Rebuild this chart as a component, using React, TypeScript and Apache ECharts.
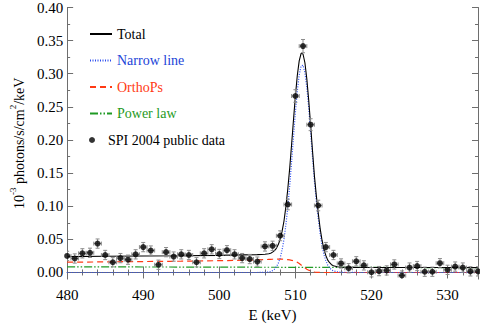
import React, { useEffect, useRef } from "react";
import * as echarts from "echarts";

// SPI 2004 public data points (keV, 10^-3 photons/s/cm^2/keV)
const energy = [
  480, 481, 482, 483, 484, 485, 486, 487, 488, 489, 490, 491, 492, 493, 494, 495, 496, 497, 498, 499,
  500, 501, 502, 503, 504, 505, 506, 507, 508, 509, 510, 511, 512, 513, 514, 515, 516, 517, 518, 519,
  520, 521, 522, 523, 524, 525, 526, 527, 528, 529, 530, 531, 532, 533, 534,
];
const spiFlux = [
  0.025, 0.0211, 0.0289, 0.0297, 0.0436, 0.0264, 0.0154, 0.0217, 0.0193, 0.0274, 0.0383, 0.0331, 0.0117,
  0.0307, 0.024, 0.0274, 0.0264, 0.0154, 0.0289, 0.035, 0.0279, 0.0336, 0.0274, 0.0217, 0.0203, 0.0164,
  0.0393, 0.0403, 0.0554, 0.1026, 0.2664, 0.3417, 0.2231, 0.1011, 0.0383, 0.0264, 0.0136, 0.0064, 0.0169,
  0.0107, 0.0003, 0.0021, 0.0031, 0.0121, -0.0046, 0.0074, 0.0097, 0.0011, 0.0011, 0.014, 0.004, 0.0089,
  0.0074, 0.0017, 0.0017,
];
const spiErr = [
  0.007, 0.007, 0.007, 0.007, 0.007, 0.007, 0.007, 0.007, 0.007, 0.007, 0.007, 0.007, 0.007, 0.007, 0.007,
  0.007, 0.007, 0.007, 0.007, 0.007, 0.007, 0.007, 0.007, 0.007, 0.007, 0.007, 0.007, 0.007, 0.0075, 0.008,
  0.0095, 0.01, 0.009, 0.008, 0.007, 0.007, 0.007, 0.007, 0.007, 0.007, 0.007, 0.007, 0.007, 0.007, 0.007,
  0.007, 0.007, 0.007, 0.007, 0.007, 0.007, 0.007, 0.007, 0.007, 0.007,
];

// Model curves, sampled on a common energy grid
const modelE = [
  480, 485, 490, 495, 500, 503, 505, 506, 506.5, 506.75, 507, 507.25, 507.5, 507.75, 508, 508.25, 508.5,
  508.75, 509, 509.25, 509.5, 509.75, 510, 510.25, 510.5, 510.75, 511, 511.25, 511.5, 511.75, 512, 512.25,
  512.5, 512.75, 513, 513.25, 513.5, 513.75, 514, 514.25, 514.5, 514.75, 515, 515.5, 516, 518, 520, 525,
  530, 534,
];
const totalFlux = [
  0.024, 0.0244, 0.0248, 0.0252, 0.0258, 0.0265, 0.0269, 0.0275, 0.0282, 0.0289, 0.0307, 0.033, 0.0365,
  0.0421, 0.0501, 0.0619, 0.0777, 0.0994, 0.1261, 0.1572, 0.1931, 0.2306, 0.2666, 0.2973, 0.3195, 0.3308,
  0.3298, 0.3166, 0.2924, 0.2601, 0.2225, 0.1834, 0.1459, 0.116, 0.0898, 0.0667, 0.0487, 0.0347, 0.0257,
  0.0187, 0.0147, 0.0117, 0.0102, 0.0087, 0.008, 0.0077, 0.0076, 0.0075, 0.0074, 0.0073,
];
const narrowFlux = [
  0, 0, 0, 0, 0, 0, 0, 0.0001, 0.0006, 0.0012, 0.0028, 0.005, 0.0085, 0.014, 0.022, 0.034, 0.05, 0.072,
  0.099, 0.1305, 0.1669, 0.205, 0.2418, 0.274, 0.2982, 0.3117, 0.313, 0.3018, 0.2796, 0.2488, 0.2126,
  0.1744, 0.1375, 0.108, 0.082, 0.059, 0.041, 0.027, 0.018, 0.011, 0.007, 0.004, 0.0025, 0.001, 0.0003,
  0, 0, 0, 0, 0,
];
const orthoFlux = [
  0.0155, 0.016, 0.0165, 0.017, 0.0178, 0.0185, 0.019, 0.0195, 0.0197, 0.0198, 0.02, 0.0201, 0.0201,
  0.0202, 0.0202, 0.0201, 0.0199, 0.0196, 0.0193, 0.0189, 0.0184, 0.0178, 0.017, 0.0155, 0.0135, 0.0113,
  0.009, 0.007, 0.005, 0.0035, 0.0022, 0.0013, 0.0007, 0.0003, 0.0001, 0, 0, 0, 0, 0, 0, 0, 0, 0, 0, 0, 0,
  0, 0, 0,
];
const powerFlux = [
  0.0085, 0.0084, 0.0083, 0.0082, 0.008, 0.008, 0.0079, 0.0079, 0.0079, 0.0079, 0.0079, 0.0079, 0.0079,
  0.0079, 0.0079, 0.0078, 0.0078, 0.0078, 0.0078, 0.0078, 0.0078, 0.0078, 0.0078, 0.0078, 0.0078, 0.0078,
  0.0078, 0.0078, 0.0078, 0.0078, 0.0077, 0.0077, 0.0077, 0.0077, 0.0077, 0.0077, 0.0077, 0.0077, 0.0077,
  0.0077, 0.0077, 0.0077, 0.0077, 0.0077, 0.0077, 0.0077, 0.0076, 0.0075, 0.0074, 0.0073,
];

// Axis ticks
const xMajor = [480, 490, 500, 510, 520, 530];
const xMinor = [482, 484, 486, 488, 492, 494, 496, 498, 502, 504, 506, 508, 512, 514, 516, 518, 522, 524, 526, 528, 532, 534];
const yMajor = [0, 0.05, 0.1, 0.15, 0.2, 0.25, 0.3, 0.35, 0.4];
const yMinor = [0.025, 0.075, 0.125, 0.175, 0.225, 0.275, 0.325, 0.375];

const seriesNames = ["Total", "Narrow line", "OrthoPs", "Power law", "SPI 2004 public data"];
const legendStyleKey: Record<string, string> = {
  "Total": "k",
  "Narrow line": "b",
  "OrthoPs": "r",
  "Power law": "g",
  "SPI 2004 public data": "k",
};

const FONT = "Liberation Serif";
const FRAME = "#6e6e6e";

const pairs = (xs: number[], ys: number[]) => xs.map((x, i) => [x, ys[i]]);

export default function App() {
  const ref = useRef<HTMLDivElement>(null);
  useEffect(() => {
    if (!ref.current) return;
    const chart = echarts.init(ref.current, null, { renderer: "svg" });
    const xMin = 480, xMax = 534, yMin = -0.01, yMax = 0.4;
    const axLine = { show: true, lineStyle: { color: FRAME, width: 1 } };
    const majTick = (vals: number[]) => ({ show: true, inside: true, length: 6, customValues: vals, lineStyle: { color: FRAME, width: 1 } });
    const minTick = (vals: number[]) => ({ show: true, inside: true, length: 3, customValues: vals, lineStyle: { color: FRAME, width: 1 } });
    const noLabel = { show: false };
    const baseX = { type: "value", min: xMin, max: xMax, splitLine: { show: false } };
    const baseY = { type: "value", min: yMin, max: yMax, splitLine: { show: false } };
    const rt = (color: string, size: number) => ({ color, fontFamily: FONT, fontSize: size, lineHeight: 14 });
    const legendRich = {
      k: rt("#000", 14),
      b: rt("#2244d8", 14),
      r: rt("#ff3a14", 14),
      g: rt("#1f9a24", 14),
    };
    const legendFormatter = (name: string) => `{${legendStyleKey[name] || "k"}|${name}}`;
    const tickRich = { t: { color: "#000", fontFamily: FONT, fontSize: 15 } };

    const option: any = {
      animation: false,
      backgroundColor: "#fff",
      textStyle: { fontFamily: FONT },
      grid: { left: 57, right: 2, top: 4, bottom: 36, containLabel: false },
      xAxis: [
        {
          ...baseX,
          position: "bottom",
          axisLine: axLine,
          axisTick: majTick(xMajor),
          axisLabel: {
            customValues: xMajor,
            color: "#000",
            fontFamily: FONT,
            fontSize: 15,
            margin: 8,
            formatter: (v: number) => `{t|${v}}`,
            rich: tickRich,
          },
          name: "E (keV)",
          nameLocation: "middle",
          nameGap: 23,
          nameTextStyle: { color: "#000", fontFamily: FONT, fontSize: 15 },
        },
        { ...baseX, position: "bottom", axisLine: { show: false }, axisTick: minTick(xMinor), axisLabel: noLabel },
        { ...baseX, position: "top", axisLine: axLine, axisTick: majTick(xMajor), axisLabel: noLabel },
        { ...baseX, position: "top", axisLine: { show: false }, axisTick: minTick(xMinor), axisLabel: noLabel },
      ],
      yAxis: [
        {
          ...baseY,
          position: "left",
          axisLine: axLine,
          axisTick: majTick(yMajor),
          axisLabel: {
            customValues: yMajor,
            color: "#000",
            fontFamily: FONT,
            fontSize: 15,
            margin: 4,
            formatter: (v: number) => `{t|${v.toFixed(2)}}`,
            rich: tickRich,
          },
          name: "{b|10}{s|-3}{b| photons/s/cm}{s|2}{b|/keV}",
          nameLocation: "middle",
          nameGap: 35,
          nameTextStyle: {
            color: "#000",
            fontFamily: FONT,
            fontSize: 14,
            rich: {
              b: { fontFamily: FONT, fontSize: 14, color: "#000", lineHeight: 18, verticalAlign: "bottom" },
              s: { fontFamily: FONT, fontSize: 9, color: "#000", lineHeight: 18, verticalAlign: "top" },
            },
          },
        },
        { ...baseY, position: "left", axisLine: { show: false }, axisTick: minTick(yMinor), axisLabel: noLabel },
        { ...baseY, position: "right", axisLine: axLine, axisTick: majTick(yMajor), axisLabel: noLabel },
        { ...baseY, position: "right", axisLine: { show: false }, axisTick: minTick(yMinor), axisLabel: noLabel },
      ],
      legend: [
        {
          orient: "vertical",
          left: 84,
          top: 22,
          itemWidth: 22,
          itemHeight: 14,
          itemGap: 12.5,
          itemStyle: { opacity: 0, borderWidth: 0 },
          formatter: legendFormatter,
          textStyle: { fontFamily: FONT, fontSize: 14, lineHeight: 14, rich: legendRich },
          data: seriesNames.slice(0, 4),
        },
        {
          orient: "vertical",
          left: 84,
          top: 128,
          itemWidth: 22,
          itemHeight: 6,
          formatter: legendFormatter,
          textStyle: { fontFamily: FONT, fontSize: 14, lineHeight: 14, color: "#000", rich: legendRich },
          data: [{ name: seriesNames[4], icon: "circle" }],
        },
      ],
      series: [
        {
          name: seriesNames[3],
          type: "line",
          data: pairs(modelE, powerFlux),
          symbol: "none",
          lineStyle: { color: "#1f9a24", width: 1.2, type: [8, 2, 1.5, 2, 1.5, 2] },
          itemStyle: { color: "#1f9a24" },
          z: 2,
        },
        {
          name: seriesNames[2],
          type: "line",
          data: pairs(modelE, orthoFlux),
          symbol: "none",
          lineStyle: { color: "#ff3a14", width: 1.2, type: [6, 4] },
          itemStyle: { color: "#ff3a14" },
          z: 2,
        },
        {
          name: seriesNames[1],
          type: "line",
          data: pairs(modelE, narrowFlux),
          symbol: "none",
          lineStyle: { color: "#2a4cf0", width: 1.2, type: [1, 1.5] },
          itemStyle: { color: "#2a4cf0" },
          z: 3,
        },
        {
          name: seriesNames[0],
          type: "line",
          data: pairs(modelE, totalFlux),
          symbol: "none",
          lineStyle: { color: "#000", width: 1.1, type: "solid" },
          itemStyle: { color: "#000" },
          z: 4,
        },
        {
          name: "errors",
          type: "custom",
          clip: true,
          data: energy.map((e, i) => [e, spiFlux[i], spiErr[i]]),
          encode: { x: 0, y: 1 },
          renderItem: (_p: any, api: any) => {
            const x = api.value(0);
            const y = api.value(1);
            const er = api.value(2);
            const top = api.coord([x, y + er]);
            const bot = api.coord([x, y - er]);
            const l = api.coord([x - 0.5, y]);
            const r = api.coord([x + 0.5, y]);
            const cap = 2;
            const style = { stroke: "#8c8c8c", lineWidth: 1, fill: null };
            const ln = (x1: number, y1: number, x2: number, y2: number) => ({
              type: "line",
              shape: { x1, y1, x2, y2 },
              style,
            });
            return {
              type: "group",
              children: [
                ln(top[0], top[1], bot[0], bot[1]),
                ln(top[0] - cap, top[1], top[0] + cap, top[1]),
                ln(bot[0] - cap, bot[1], bot[0] + cap, bot[1]),
                ln(l[0], l[1], r[0], r[1]),
                ln(l[0], l[1] - cap, l[0], l[1] + cap),
                ln(r[0], r[1] - cap, r[0], r[1] + cap),
              ],
            };
          },
          z: 5,
          silent: true,
        },
        {
          name: seriesNames[4],
          type: "scatter",
          data: pairs(energy, spiFlux),
          symbol: "circle",
          symbolSize: 6,
          itemStyle: { color: "#000" },
          z: 6,
        },
      ],
    };
    chart.setOption(option);
    return () => chart.dispose();
  }, []);
  return (
    <div
      ref={ref}
      style={{ position: "absolute", left: 0, top: 0, width: 480, height: 327, background: "#fff" }}
    />
  );
}
